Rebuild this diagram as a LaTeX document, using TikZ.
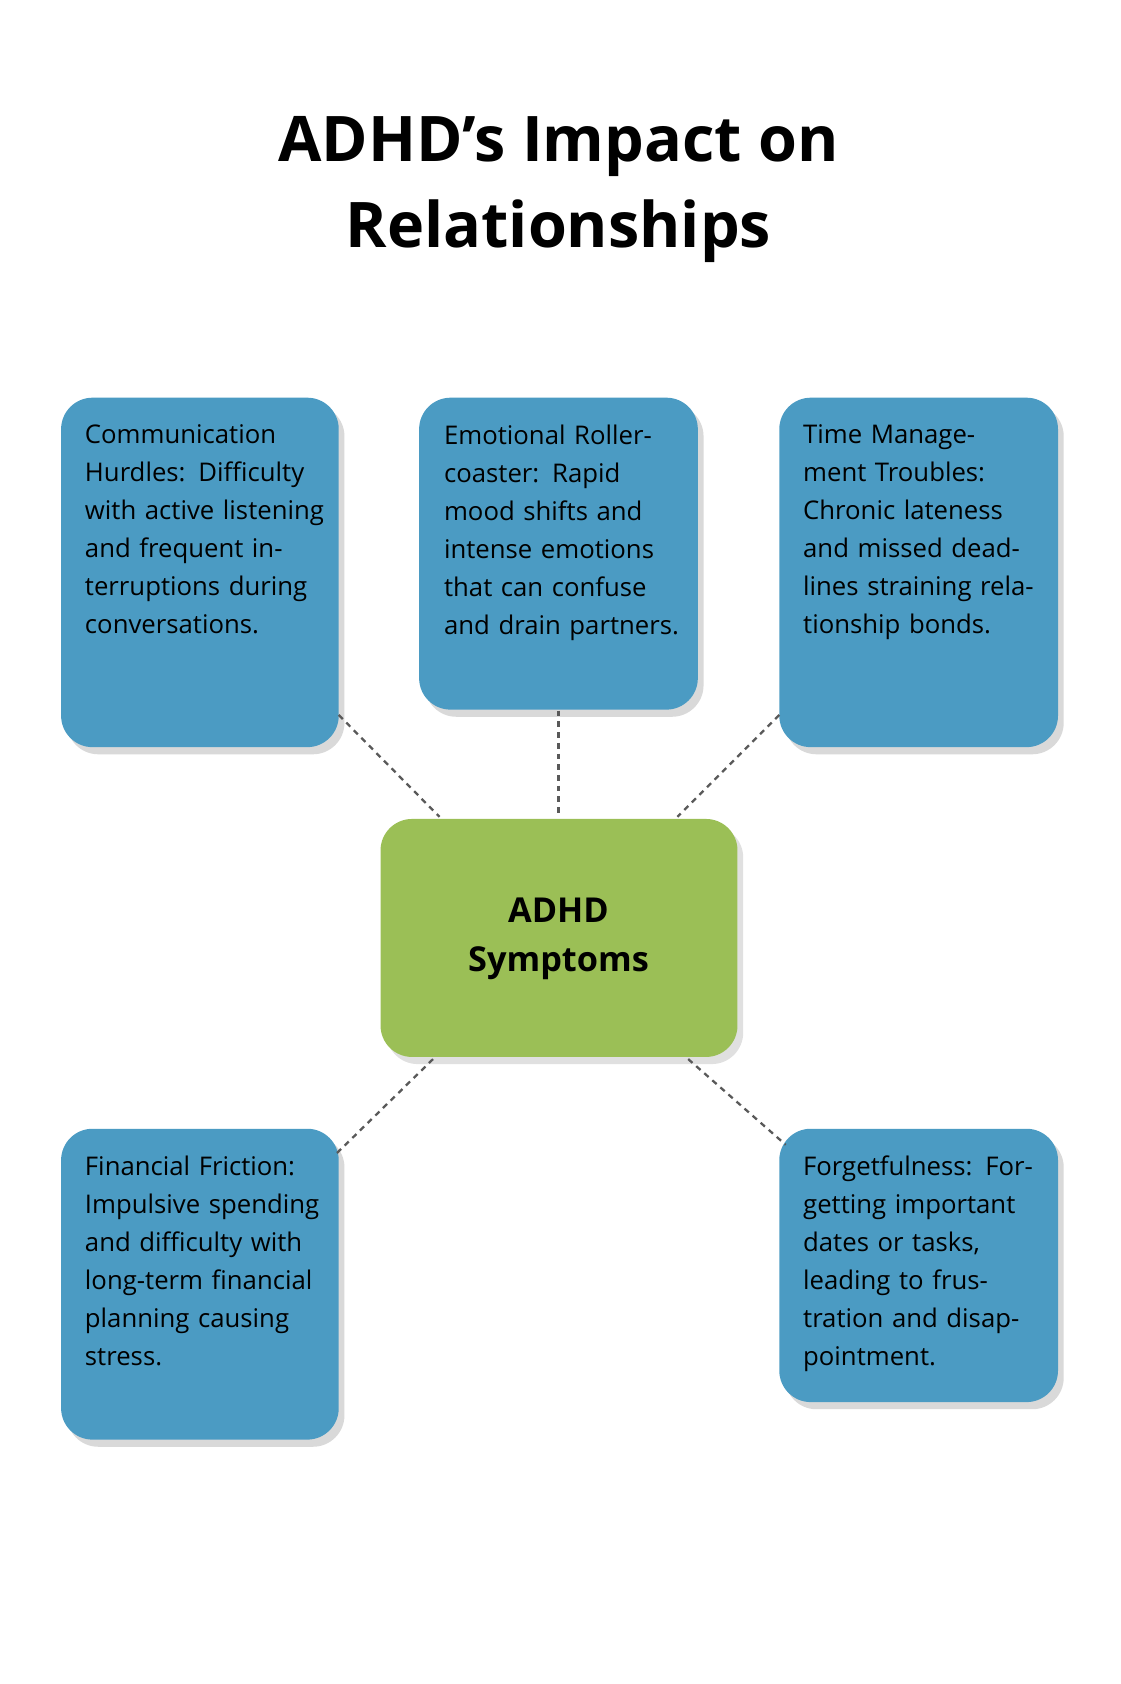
\documentclass[tikz,border=0pt]{standalone}
\usepackage{fontspec}
\setmainfont{Open Sans}
\usetikzlibrary{shadows}
\definecolor{bx}{HTML}{4B9BC3}
\definecolor{gr}{HTML}{9BBF56}
\begin{document}
\begin{tikzpicture}[x=0.75pt,y=-0.75pt,
 card/.style={fill=bx,rounded corners=22pt,drop shadow={shadow xshift=4pt,shadow yshift=-5pt,opacity=0.25,fill=black!60}},
 txt/.style={anchor=north west,align=left,inner sep=0pt,font=\fontsize{18}{26.6}\selectfont,text width=170pt},
 conn/.style={draw=black!65,line width=1.6pt,dash pattern=on 4pt off 3.5pt}]
\useasboundingbox (0,0) rectangle (1045,1571);
\node[font=\bfseries\fontsize{44}{60}\selectfont,align=center] (title) at (521,177) {ADHD's Impact on\\Relationships};
\path[card] (57,371) rectangle (316,697); \coordinate (a) at (316,667);
\path[card] (391,371) rectangle (651,662); \coordinate (b) at (521,663);
\path[card] (727,371) rectangle (987,697); \coordinate (c) at (727,667);
\path[card] (57,1053) rectangle (316,1343); \coordinate (d) at (314,1076);
\path[card] (727,1053) rectangle (987,1308); \coordinate (e) at (733,1068);
\path[fill=gr,rounded corners=22pt,drop shadow={shadow xshift=4pt,shadow yshift=-5pt,opacity=0.2,fill=black!60}] (355,764) rectangle (688,986);
\node[font=\bfseries\fontsize{24}{34}\selectfont,align=center] (center) at (521,876) {ADHD\\Symptoms};
\coordinate (ca) at (410,762); \coordinate (cb) at (521,762); \coordinate (cc) at (632,762);
\coordinate (cd) at (404,988); \coordinate (ce) at (642,988);
\draw[conn] (a)--(ca); \draw[conn] (b)--(cb); \draw[conn] (c)--(cc);
\draw[conn] (cd)--(d); \draw[conn] (ce)--(e);
\node[txt] (ta) at (79,396) {Communication Hurdles: Difficulty with active listening and frequent interruptions during conversations.};
\node[txt] (tb) at (414,396) {Emotional Rollercoaster: Rapid mood shifts and intense emotions that can confuse and drain partners.};
\node[txt] (tc) at (749,396) {Time Management Troubles: Chronic lateness and missed deadlines straining relationship bonds.};
\node[txt] (td) at (79,1078) {Financial Friction: Impulsive spending and difficulty with long-term financial planning causing stress.};
\node[txt] (te) at (749,1078) {Forgetfulness: Forgetting important dates or tasks, leading to frustration and disappointment.};
\end{tikzpicture}
\end{document}
